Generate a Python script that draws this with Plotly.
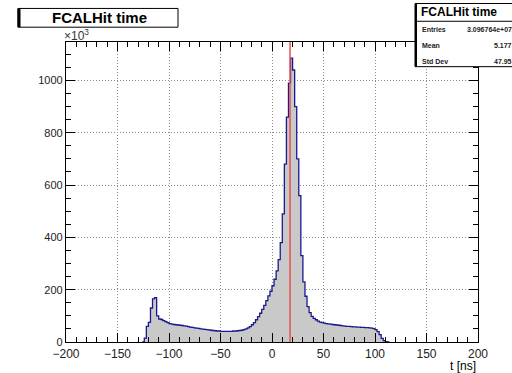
import plotly.graph_objects as go

# ---------------- data (values in units of 10^3 entries) ----------------
bin_low_edge = -126.0
bin_width = 2.0
counts = [
    0, 15, 60, 75, 130, 165, 170, 100, 88, 86,        # -126 .. -106
    82, 78, 74, 70, 68, 67, 66, 65, 64, 63,           # -106 .. -86
    62, 61, 59, 57, 56, 54, 53, 52, 50, 49,           # -86 .. -66
    48, 47, 46, 45, 44, 43, 42, 42, 41, 41,           # -66 .. -46
    41, 41, 41, 41, 42, 42, 43, 44, 45, 47,           # -46 .. -26
    50, 54, 59, 66, 74, 85, 97, 110, 125, 140,        # -26 .. -6
    158, 176, 194, 215, 240, 272, 315, 380, 490, 680, # -6 .. 14
    860, 990, 1085, 1040, 900, 700, 560, 330, 230, 175,  # 14 .. 34
    135, 112, 98, 90, 85, 80, 76, 74, 72, 70,         # 34 .. 54
    69, 68, 67, 66, 65, 64, 63, 62, 61, 60,           # 54 .. 74
    60, 59, 58, 58, 57, 57, 56, 56, 55, 55,           # 74 .. 94
    54, 53, 51, 47, 40, 28, 14, 5, 1, 0,              # 94 .. 114
]
red_line_x = 17.5
stat_title = "FCALHit time"
stat_rows = [("Entries", "3.096764e+07"), ("Mean", "5.177"), ("Std Dev", "47.95")]
x_tick_vals = [-200, -150, -100, -50, 0, 50, 100, 150, 200]
y_tick_vals = [0, 200, 400, 600, 800, 1000]

# ---------------- build step histogram ----------------
edges = [bin_low_edge + i * bin_width for i in range(len(counts) + 1)]
xs = edges
ys = counts + [counts[-1]]

W, H = 512, 373
L, R, T, B = 66, 478, 42, 346
pw, ph = R - L, B - T


def px(x):
    return (x - L) / pw


def py(y):
    return (B - y) / ph


FONT = "Liberation Sans, Arial, Helvetica, sans-serif"

fig = go.Figure()
fig.add_trace(go.Scatter(
    x=xs, y=ys, mode="lines", line=dict(shape="hv", color="#1a1a8c", width=1.3),
    fill="tozeroy", fillcolor="#c9c9c9", hoverinfo="skip", showlegend=False,
))

shapes = []
# red vertical line
shapes.append(dict(type="line", xref="x", yref="paper", x0=red_line_x, x1=red_line_x,
                   y0=0, y1=1, line=dict(color="#e8504f", width=1.5)))

# title box
shapes.append(dict(type="rect", xref="paper", yref="paper", x0=px(18), x1=px(178),
                   y0=py(27), y1=py(8), fillcolor="white", line=dict(color="black", width=1)))
shapes.append(dict(type="line", xref="paper", yref="paper", x0=px(19), x1=px(19),
                   y0=py(27), y1=py(8), line=dict(color="black", width=3)))

# stat box
shapes.append(dict(type="rect", xref="paper", yref="paper", x0=px(415), x1=px(530),
                   y0=py(67), y1=py(3), fillcolor="white", line=dict(color="black", width=1)))
shapes.append(dict(type="line", xref="paper", yref="paper", x0=px(416), x1=px(416),
                   y0=py(67), y1=py(3), line=dict(color="black", width=2)))
shapes.append(dict(type="line", xref="paper", yref="paper", x0=px(415), x1=px(530),
                   y0=py(21), y1=py(21), line=dict(color="black", width=1)))

ann = []
ann.append(dict(text="<b>FCALHit time</b>", xref="paper", yref="paper", x=px(99), y=py(17.5),
                xanchor="center", yanchor="middle", showarrow=False,
                font=dict(family=FONT, size=15, color="black")))
ann.append(dict(text="<b>" + stat_title + "</b>", xref="paper", yref="paper", x=px(419), y=py(12),
                xanchor="left", yanchor="middle", showarrow=False,
                font=dict(family=FONT, size=12, color="black")))
for i, (k, v) in enumerate(stat_rows):
    yy = 29 + i * 16.5
    ann.append(dict(text="<b>" + k + "</b>", xref="paper", yref="paper", x=px(420), y=py(yy),
                    xanchor="left", yanchor="middle", showarrow=False,
                    font=dict(family=FONT, size=7, color="#222")))
    ann.append(dict(text="<b>" + v + "</b>", xref="paper", yref="paper", x=px(514), y=py(yy),
                    xanchor="right", yanchor="middle", showarrow=False,
                    font=dict(family=FONT, size=7, color="#222")))
ann.append(dict(text="×10<sup>3</sup>", xref="paper", yref="paper", x=px(62), y=py(35),
                xanchor="left", yanchor="middle", showarrow=False,
                font=dict(family=FONT, size=12, color="#333")))
ann.append(dict(text="t [ns]", xref="paper", yref="paper", x=1.0, y=py(370),
                xanchor="right", yanchor="middle", showarrow=False,
                font=dict(family=FONT, size=12, color="black")))

GRID_DASH = "1px,2px"
fig.update_layout(
    width=W, height=H, margin=dict(l=L, r=W - R, t=T, b=H - B),
    paper_bgcolor="white", plot_bgcolor="white",
    shapes=shapes, annotations=ann, showlegend=False,
    xaxis=dict(range=[-200, 200], tickvals=x_tick_vals, ticks="inside", ticklen=9,
               tickcolor="black", showline=True, linecolor="black", linewidth=1.2,
               mirror="ticks", showgrid=True, gridcolor="#8a8a8a", griddash=GRID_DASH, gridwidth=1,
               zeroline=False, tickfont=dict(family=FONT, size=12, color="#222"),
               minor=dict(dtick=10, ticks="inside", ticklen=5, tickcolor="black", showgrid=False)),
    yaxis=dict(range=[0, 1147], tickvals=y_tick_vals, ticks="inside", ticklen=9,
               tickcolor="black", showline=True, linecolor="black", linewidth=1.2,
               mirror="ticks", showgrid=True, gridcolor="#8a8a8a", griddash=GRID_DASH, gridwidth=1,
               zeroline=False, tickfont=dict(family=FONT, size=11, color="#222"),
               minor=dict(dtick=50, ticks="inside", ticklen=5, tickcolor="black", showgrid=False)),
)

fig.write_html("out.html")
